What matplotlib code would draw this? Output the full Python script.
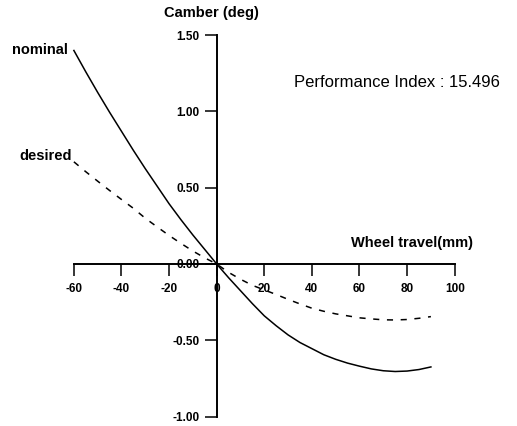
import matplotlib
matplotlib.use('Agg')
import matplotlib.pyplot as plt
from matplotlib.ticker import FormatStrFormatter

# wheel travel (mm) and camber (deg)
travel = [-60, -55, -50, -45, -40, -35, -30, -25, -20, -15, -10, -5, 0,
          5, 10, 15, 20, 25, 30, 35, 40, 45, 50, 55, 60, 65, 70, 75, 80, 85, 90]
nominal = [1.40, 1.26, 1.125, 0.995, 0.87, 0.745, 0.625, 0.51, 0.395, 0.29, 0.19, 0.095, 0.0,
           -0.09, -0.175, -0.26, -0.34, -0.405, -0.465, -0.515, -0.555, -0.595, -0.625,
           -0.65, -0.67, -0.688, -0.70, -0.705, -0.702, -0.692, -0.675]
desired = [0.67, 0.605, 0.543, 0.482, 0.423, 0.365, 0.30, 0.243, 0.187, 0.135, 0.085, 0.04, 0.0,
           -0.055, -0.10, -0.14, -0.17, -0.20, -0.232, -0.262, -0.29, -0.31, -0.327,
           -0.34, -0.353, -0.36, -0.366, -0.367, -0.364, -0.356, -0.345]

x_ticks = [-60, -40, -20, 0, 20, 40, 60, 80, 100]
y_ticks = [-1.0, -0.5, 0.0, 0.5, 1.0, 1.5]
perf_index = 15.496

plt.rcParams['font.family'] = ['Liberation Sans', 'DejaVu Sans']
plt.rcParams['axes.unicode_minus'] = False

fig = plt.figure(figsize=(5.17, 4.26), dpi=100)
ax = fig.add_axes([0.1429, 0.0223, 0.7366, 0.895])
ax.set_xlim(-60, 100)
ax.set_ylim(-1.0, 1.5)

ax.plot(travel, nominal, color='black', lw=1.1, clip_on=False)
ax.plot(travel, desired, color='black', lw=1.1, ls=(0, (4, 5)), clip_on=False)

# axes crossing at the origin
for side in ['top', 'right']:
    ax.spines[side].set_visible(False)
ax.spines['left'].set_position(('data', 0))
ax.spines['bottom'].set_position(('data', 0))
ax.spines['left'].set_linewidth(1.4)
ax.spines['bottom'].set_linewidth(1.4)
ax.spines['left'].set_bounds(-1.0, 1.5)
ax.spines['bottom'].set_bounds(-60, 100)

ax.set_xticks(x_ticks)
ax.set_yticks(y_ticks)
ax.yaxis.set_major_formatter(FormatStrFormatter('%.2f'))
ax.tick_params(axis='x', direction='out', length=8.5, width=1.1, pad=5,
               labelsize=8.5)
ax.tick_params(axis='y', direction='out', length=8.5, width=1.1, pad=4,
               labelsize=8.5)
for lab in ax.get_xticklabels() + ax.get_yticklabels():
    lab.set_fontweight('bold')

ax.text(-2.4, 1.645, 'Camber (deg)', ha='center', va='center',
        fontsize=10.5, fontweight='bold')
ax.text(82, 0.138, 'Wheel travel(mm)', ha='center', va='center',
        fontsize=10.5, fontweight='bold')
ax.text(75.8, 1.187, 'Performance Index : %.3f' % perf_index, ha='center',
        va='center', fontsize=12)
ax.text(-62.5, 1.405, 'nominal', ha='right', va='center',
        fontsize=10.5, fontweight='bold')
ax.text(-60.8, 0.71, 'desired', ha='right', va='center',
        fontsize=10.5, fontweight='bold')

fig.savefig('out.png', dpi=100)
